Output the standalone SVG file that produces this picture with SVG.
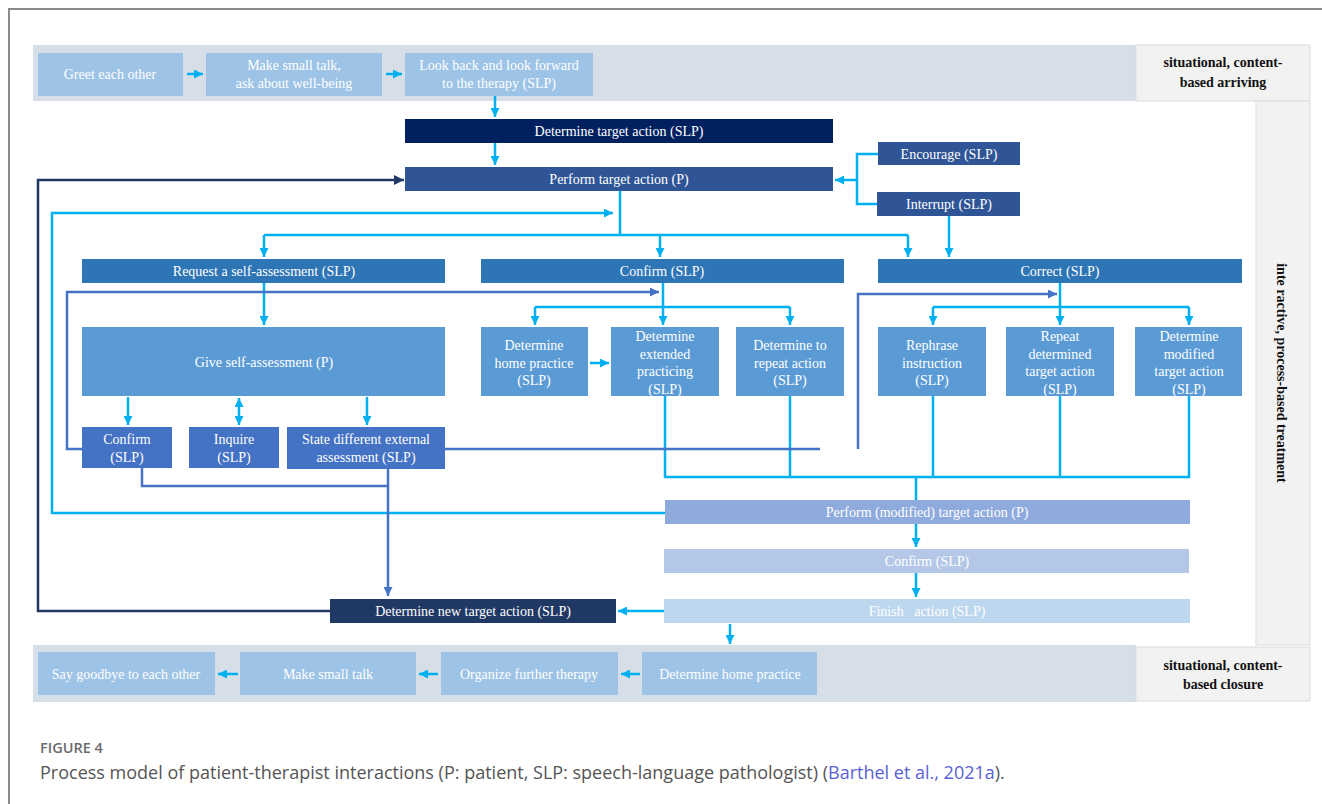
<svg xmlns="http://www.w3.org/2000/svg" width="1322" height="804" viewBox="0 0 1322 804">
<style>
.t{font-family:"Liberation Serif","Times New Roman",serif;font-size:14px;fill:#ffffff;text-anchor:middle}
.lb{font-family:"Liberation Serif","Times New Roman",serif;font-size:14px;font-weight:bold;fill:#111;text-anchor:middle}
.c{fill:none;stroke:#00b0f0;stroke-width:2.5}
.b{fill:none;stroke:#4472c4;stroke-width:2.5}
.n{fill:none;stroke:#1f3864;stroke-width:2.5}
.band{fill:#d6dee8}
.side{fill:#f2f2f2;stroke:#dcdcdc;stroke-width:1}
.lt{fill:#9dc3e6}
.mid{fill:#5b9bd5}
.dk{fill:#4472c4}
.hd{fill:#2e75b6}
.pf{fill:#2f5597}
</style>
<defs>
<marker id="ac" viewBox="0 0 10 10" refX="10" refY="5" markerWidth="9" markerHeight="9" markerUnits="userSpaceOnUse" orient="auto-start-reverse"><path d="M0,0 L10,5 L0,10 z" fill="#00b0f0"/></marker>
<marker id="ab" viewBox="0 0 10 10" refX="10" refY="5" markerWidth="9" markerHeight="9" markerUnits="userSpaceOnUse" orient="auto"><path d="M0,0 L10,5 L0,10 z" fill="#4472c4"/></marker>
<marker id="an" viewBox="0 0 10 10" refX="10" refY="5" markerWidth="10" markerHeight="10" markerUnits="userSpaceOnUse" orient="auto"><path d="M0,0 L10,5 L0,10 z" fill="#1f3864"/></marker>
</defs>
<rect width="1322" height="804" fill="#ffffff"/>
<path d="M9,804 V9 H1322" fill="none" stroke="#8a8a8a" stroke-width="2"/>

<!-- bands -->
<g id="band-arriving">
<rect class="band" x="33" y="45" width="1103" height="56"/>
<rect class="side" x="1136" y="45" width="174" height="56"/>
<text class="lb" x="1223" y="67">situational, content-</text>
<text class="lb" x="1223" y="87">based arriving</text>
</g>
<g id="band-treatment">
<rect class="side" x="1256" y="101" width="54" height="544"/>
<text class="lb" transform="translate(1277,373) rotate(90)">inte ractive, process-based treatment</text>
</g>
<g id="band-closure">
<rect class="band" x="33" y="645" width="1103" height="57"/>
<rect class="side" x="1136" y="647" width="174" height="54"/>
<text class="lb" x="1223" y="670">situational, content-</text>
<text class="lb" x="1223" y="689">based closure</text>
</g>

<!-- connectors -->
<g id="connectors">
<path class="c" d="M187,74 H203" marker-end="url(#ac)"/>
<path class="c" d="M386,74 H402" marker-end="url(#ac)"/>
<path class="c" d="M495,96 V117" marker-end="url(#ac)"/>
<path class="c" d="M495,143 V165" marker-end="url(#ac)"/>
<path class="c" d="M878,154 H857 V204 H877"/>
<path class="c" d="M857,180 H835" marker-end="url(#ac)"/>
<path class="c" d="M949,216 V257" marker-end="url(#ac)"/>
<path class="c" d="M620,191 V235"/>
<path class="c" d="M264,235 H908"/>
<path class="c" d="M264,235 V257" marker-end="url(#ac)"/>
<path class="c" d="M660,235 V257" marker-end="url(#ac)"/>
<path class="c" d="M908,235 V257" marker-end="url(#ac)"/>
<path class="c" d="M665,513 H52 V213 H613" marker-end="url(#ac)"/>
<path class="c" d="M264,283 V325" marker-end="url(#ac)"/>
<path class="c" d="M128,397 V425" marker-end="url(#ac)"/>
<path class="c" d="M239,398 V425" marker-start="url(#ac)" marker-end="url(#ac)"/>
<path class="c" d="M367,397 V425" marker-end="url(#ac)"/>
<path class="c" d="M663,283 V307"/>
<path class="c" d="M535,307 H790"/>
<path class="c" d="M535,307 V325" marker-end="url(#ac)"/>
<path class="c" d="M663,307 V325" marker-end="url(#ac)"/>
<path class="c" d="M790,307 V325" marker-end="url(#ac)"/>
<path class="c" d="M1060,283 V307"/>
<path class="c" d="M933,307 H1189"/>
<path class="c" d="M933,307 V325" marker-end="url(#ac)"/>
<path class="c" d="M1060,307 V325" marker-end="url(#ac)"/>
<path class="c" d="M1189,307 V325" marker-end="url(#ac)"/>
<path class="c" d="M590,363 H609" marker-end="url(#ac)"/>
<path class="c" d="M665,396 V477 H1189 V396"/>
<path class="c" d="M790,396 V477"/>
<path class="c" d="M933,396 V477"/>
<path class="c" d="M1060,396 V477"/>
<path class="c" d="M916,477 V500"/>
<path class="c" d="M916,524 V547" marker-end="url(#ac)"/>
<path class="c" d="M916,573 V597" marker-end="url(#ac)"/>
<path class="c" d="M664,611 H618" marker-end="url(#ac)"/>
<path class="c" d="M730,624 V644" marker-end="url(#ac)"/>
<path class="c" d="M640,674 H621" marker-end="url(#ac)"/>
<path class="c" d="M438,674 H419" marker-end="url(#ac)"/>
<path class="c" d="M238,674 H218" marker-end="url(#ac)"/>
<path class="b" d="M82,449 H67 V292 H659" marker-end="url(#ab)"/>
<path class="b" d="M445,449 H820"/>
<path class="b" d="M858,449 V294 H1057" marker-end="url(#ab)"/>
<path class="b" d="M142,468 V486 H388"/>
<path class="b" d="M388,469 V596" marker-end="url(#ab)"/>
<path class="n" d="M330,611 H38 V180 H404" marker-end="url(#an)"/>
</g>

<!-- top band nodes -->
<g id="greet"><rect class="lt" x="38" y="53" width="145" height="43"/><text class="t" x="110" y="79">Greet each other</text></g>
<g id="smalltalk-start"><rect class="lt" x="206" y="53" width="176" height="43"/><text class="t" x="294" y="70">Make small talk,</text><text class="t" x="294" y="88">ask about well-being</text></g>
<g id="look-back"><rect class="lt" x="405" y="53" width="188" height="43"/><text class="t" x="499" y="70">Look back and look forward</text><text class="t" x="499" y="88">to the therapy (SLP)</text></g>

<!-- treatment nodes -->
<g id="determine-target"><rect x="405" y="119" width="428" height="24" fill="#002060"/><text class="t" x="619" y="136">Determine target action (SLP)</text></g>
<g id="perform-target"><rect class="pf" x="405" y="167" width="428" height="24"/><text class="t" x="619" y="184">Perform target action (P)</text></g>
<g id="encourage"><rect class="pf" x="878" y="142" width="142" height="23"/><text class="t" x="949" y="159">Encourage (SLP)</text></g>
<g id="interrupt"><rect class="pf" x="877" y="192" width="143" height="24"/><text class="t" x="949" y="209">Interrupt (SLP)</text></g>

<g id="request-self"><rect class="hd" x="82" y="259" width="363" height="24"/><text class="t" x="264" y="276">Request a self-assessment (SLP)</text></g>
<g id="confirm-top"><rect class="hd" x="481" y="259" width="363" height="24"/><text class="t" x="662" y="276">Confirm (SLP)</text></g>
<g id="correct"><rect class="hd" x="878" y="259" width="364" height="24"/><text class="t" x="1060" y="276">Correct (SLP)</text></g>

<g id="give-self"><rect class="mid" x="82" y="327" width="363" height="69"/><text class="t" x="264" y="367">Give self-assessment (P)</text></g>
<g id="confirm-small"><rect class="dk" x="82" y="427" width="90" height="41"/><text class="t" x="127" y="444">Confirm</text><text class="t" x="127" y="462">(SLP)</text></g>
<g id="inquire"><rect class="dk" x="189" y="427" width="90" height="41"/><text class="t" x="234" y="444">Inquire</text><text class="t" x="234" y="462">(SLP)</text></g>
<g id="state-different"><rect class="dk" x="287" y="427" width="158" height="42"/><text class="t" x="366" y="444">State different external</text><text class="t" x="366" y="462">assessment (SLP)</text></g>

<g id="home-practice-mid"><rect class="mid" x="481" y="327" width="107" height="69"/><text class="t" x="534" y="350">Determine</text><text class="t" x="534" y="368">home practice</text><text class="t" x="534" y="385">(SLP)</text></g>
<g id="extended"><rect class="mid" x="611" y="327" width="108" height="69"/><text class="t" x="665" y="341">Determine</text><text class="t" x="665" y="359">extended</text><text class="t" x="665" y="376">practicing</text><text class="t" x="665" y="394">(SLP)</text></g>
<g id="repeat-action"><rect class="mid" x="736" y="327" width="108" height="69"/><text class="t" x="790" y="350">Determine to</text><text class="t" x="790" y="368">repeat action</text><text class="t" x="790" y="385">(SLP)</text></g>
<g id="rephrase"><rect class="mid" x="878" y="327" width="108" height="69"/><text class="t" x="932" y="350">Rephrase</text><text class="t" x="932" y="368">instruction</text><text class="t" x="932" y="385">(SLP)</text></g>
<g id="repeat-determined"><rect class="mid" x="1006" y="327" width="108" height="69"/><text class="t" x="1060" y="341">Repeat</text><text class="t" x="1060" y="359">determined</text><text class="t" x="1060" y="376">target action</text><text class="t" x="1060" y="394">(SLP)</text></g>
<g id="modified"><rect class="mid" x="1135" y="327" width="107" height="69"/><text class="t" x="1189" y="341">Determine</text><text class="t" x="1189" y="359">modified</text><text class="t" x="1189" y="376">target action</text><text class="t" x="1189" y="394">(SLP)</text></g>

<g id="perform-modified"><rect x="665" y="500" width="525" height="24" fill="#8faadc"/><text class="t" x="927" y="517">Perform (modified) target action (P)</text></g>
<g id="confirm-bottom"><rect x="664" y="549" width="525" height="24" fill="#b4c7e7"/><text class="t" x="927" y="566">Confirm (SLP)</text></g>
<g id="finish"><rect x="664" y="599" width="526" height="24" fill="#bdd7ee"/><text class="t" x="927" y="616" style="white-space:pre">Finish   action (SLP)</text></g>
<g id="determine-new"><rect x="330" y="599" width="286" height="24" fill="#1f3864"/><text class="t" x="473" y="616">Determine new target action (SLP)</text></g>

<!-- closure nodes -->
<g id="home-practice"><rect class="lt" x="642" y="652" width="175" height="43"/><text class="t" x="730" y="679">Determine home practice</text></g>
<g id="organize"><rect class="lt" x="441" y="652" width="177" height="43"/><text class="t" x="529" y="679">Organize further therapy</text></g>
<g id="smalltalk-end"><rect class="lt" x="240" y="652" width="176" height="43"/><text class="t" x="328" y="679">Make small talk</text></g>
<g id="goodbye"><rect class="lt" x="38" y="652" width="177" height="43"/><text class="t" x="126" y="679">Say goodbye to each other</text></g>

<!-- caption -->
<g id="caption">
<text x="40" y="753" style="font-family:'Open Sans','Noto Sans',sans-serif;font-size:14.5px;font-weight:600;fill:#6b6b6b">FIGURE 4</text>
<text x="40" y="779" style="font-family:'Open Sans','Noto Sans',sans-serif;font-size:18px;fill:#555555">Process model of patient-therapist interactions (P: patient, SLP: speech-language pathologist) (<tspan fill="#5a5fd6">Barthel et al., 2021a</tspan>).</text>
</g>
</svg>
